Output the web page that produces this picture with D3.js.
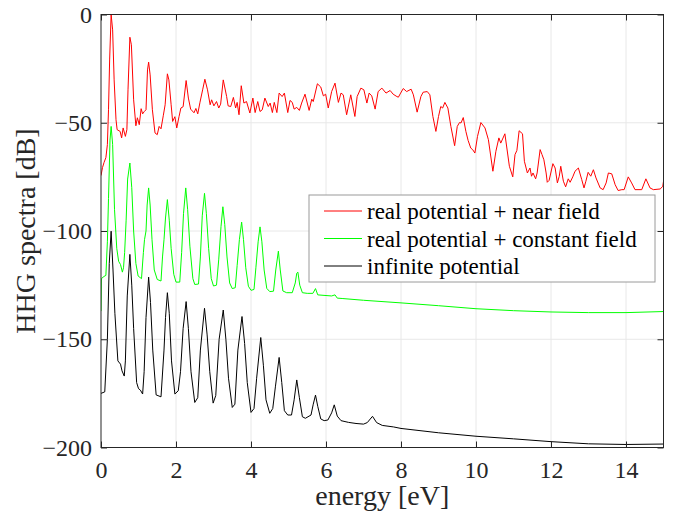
<!DOCTYPE html>
<html>
<head>
<meta charset="utf-8">
<script src="https://cdn.jsdelivr.net/npm/d3@7"></script>
</head>
<body style="margin:0">
<div id="figure"></div>
<script>
// Axis ticks
const xTicks = [0, 2, 4, 6, 8, 10, 12, 14];
const yTicks = [-200, -150, -100, -50, 0];

// Legend entries
const seriesNames = ["real potential + near field", "real potential + constant field", "infinite potential"];
const seriesColors = ["#ff0000", "#00ff00", "#000000"];

// HHG spectra: [photon energy (eV), intensity (dB)]
const nearField = [
  [0,-74.4],[0.04,-70.7],[0.08,-68.4],[0.13,-66.1],[0.17,-60.1],[0.2,-44],[0.23,-21],[0.27,0],
  [0.31,-7.1],[0.35,-30.2],[0.4,-48.6],[0.43,-53.2],[0.51,-54],[0.55,-57],[0.59,-52.4],[0.65,-56.3],
  [0.69,-53.2],[0.72,-34.8],[0.77,-10.5],[0.81,-14],[0.87,-39.4],[0.93,-51.4],[0.97,-47.7],[1.02,-50.9],
  [1.07,-43.5],[1.11,-45.9],[1.15,-44.9],[1.2,-44],[1.24,-25.6],[1.27,-22],[1.31,-27.9],[1.37,-44],
  [1.44,-54.7],[1.5,-55.5],[1.55,-51.7],[1.6,-52.8],[1.66,-46.8],[1.71,-41.7],[1.77,-27.4],[1.81,-30.2],
  [1.87,-41.7],[1.91,-49.4],[1.97,-47.2],[2.02,-52.4],[2.08,-47.2],[2.13,-43.2],[2.19,-42.6],[2.27,-30.5],
  [2.33,-38.6],[2.39,-43.7],[2.48,-45.4],[2.53,-43.4],[2.58,-45.9],[2.64,-40.5],[2.71,-34.8],[2.77,-29.9],
  [2.84,-34.8],[2.91,-41.7],[2.95,-39.4],[3.01,-42.2],[3.08,-40.2],[3.14,-43.2],[3.19,-41.4],[3.26,-30.2],
  [3.35,-37.9],[3.39,-42.2],[3.46,-42.5],[3.53,-38.3],[3.59,-43.2],[3.63,-40.6],[3.68,-46.3],[3.74,-32.9],
  [3.81,-40.9],[3.88,-40.2],[3.97,-45.5],[4.05,-38.6],[4.11,-45.3],[4.18,-40.2],[4.24,-44.8],[4.3,-44],
  [4.37,-38.6],[4.46,-42.5],[4.51,-40.9],[4.57,-45.3],[4.62,-40.6],[4.69,-45.3],[4.75,-36.3],[4.83,-37.9],
  [4.89,-36.3],[4.98,-45.3],[5.04,-39.7],[5.1,-40.6],[5.15,-43.7],[5.22,-42.9],[5.29,-44.3],[5.35,-40.9],
  [5.44,-36.8],[5.55,-44.3],[5.62,-39.1],[5.66,-40.2],[5.77,-32],[5.86,-33.5],[5.93,-37.6],[5.99,-36.8],
  [6.06,-43.2],[6.15,-35.6],[6.24,-31.7],[6.33,-40.6],[6.4,-36.3],[6.46,-37.1],[6.55,-46.3],[6.66,-37.1],
  [6.77,-47.1],[6.83,-37.9],[6.93,-34],[7.01,-34.8],[7.09,-40.9],[7.15,-36.3],[7.22,-37.6],[7.31,-43.7],
  [7.39,-35.6],[7.49,-34],[7.6,-36.3],[7.71,-35.1],[7.79,-36.8],[7.89,-37.9],[7.93,-38.2],[7.99,-36.3],
  [8.06,-34.2],[8.15,-35.6],[8.27,-34.5],[8.33,-37.1],[8.43,-45.1],[8.53,-37.9],[8.59,-35.9],[8.7,-35.6],
  [8.77,-37.1],[8.85,-47.1],[8.93,-54],[9.0,-47.1],[9.06,-42.5],[9.11,-43.2],[9.17,-40.6],[9.25,-43.2],
  [9.33,-51.7],[9.43,-60.6],[9.5,-51.7],[9.56,-49.9],[9.6,-50.1],[9.66,-47.6],[9.73,-54],[9.79,-58.2],
  [9.86,-61.7],[9.91,-62.4],[9.97,-64],[10.04,-56.3],[10.13,-49.9],[10.24,-52.4],[10.33,-57.8],[10.45,-72.4],
  [10.53,-63.2],[10.61,-57],[10.66,-59.4],[10.77,-55.1],[10.89,-70.1],[10.98,-75],[11.04,-64.7],[11.09,-62.8],
  [11.15,-53.7],[11.24,-55.1],[11.29,-67.8],[11.37,-73.2],[11.44,-70.9],[11.48,-74.7],[11.52,-73.2],[11.59,-75.9],
  [11.63,-73.2],[11.71,-62.4],[11.76,-64.7],[11.81,-67.1],[11.87,-73.2],[11.9,-77.5],[11.95,-76.6],[12.05,-68.9],
  [12.11,-70.9],[12.17,-77.8],[12.22,-74.7],[12.26,-70.1],[12.33,-77],[12.39,-79.6],[12.46,-75.9],[12.51,-77.5],
  [12.58,-75],[12.64,-72.4],[12.73,-70.9],[12.82,-76.3],[12.88,-80.1],[12.93,-77],[12.99,-72.9],[13.06,-74.7],
  [13.13,-71.7],[13.2,-75.5],[13.31,-80.1],[13.39,-80.9],[13.47,-77.8],[13.53,-73.2],[13.62,-73.6],[13.71,-78.6],
  [13.79,-81.3],[13.89,-80.9],[13.95,-80.9],[14.06,-75],[14.15,-77.8],[14.24,-80.9],[14.42,-80.9],[14.53,-75.9],
  [14.64,-80.1],[14.73,-80.9],[14.91,-80.6],[14.98,-79.4],[15,-77]
];

const constantField = [
  [0,-137],[0.01,-122],[0.08,-121],[0.13,-120.5],[0.17,-105],[0.2,-85],[0.24,-58],[0.27,-51.7],
  [0.31,-60],[0.36,-90],[0.42,-108],[0.47,-114],[0.52,-115.5],[0.57,-119],[0.6,-117],[0.63,-110],
  [0.67,-95],[0.71,-76],[0.77,-68.6],[0.82,-80],[0.87,-100],[0.93,-115],[0.99,-120.8],[1.08,-122],
  [1.13,-110],[1.16,-104],[1.2,-100],[1.23,-88],[1.27,-80.1],[1.31,-88],[1.36,-104],[1.42,-118],
  [1.5,-122.4],[1.6,-123.1],[1.64,-112],[1.68,-104],[1.72,-94],[1.77,-85.5],[1.82,-95],[1.87,-108],
  [1.94,-120],[2.0,-123.6],[2.1,-123.6],[2.15,-110],[2.2,-92],[2.26,-80.1],[2.31,-90],[2.37,-107],
  [2.45,-122],[2.5,-124.7],[2.6,-124.5],[2.65,-112],[2.7,-93],[2.76,-82.6],[2.81,-92],[2.87,-108],
  [2.94,-122],[3.0,-125.4],[3.08,-125],[3.14,-113],[3.2,-98],[3.25,-88.8],[3.3,-97],[3.36,-112],
  [3.43,-124],[3.5,-126.6],[3.58,-126.2],[3.63,-116],[3.69,-104],[3.75,-95.9],[3.8,-104],[3.86,-117],
  [3.93,-125.5],[4.0,-127.4],[4.08,-127],[4.13,-117],[4.19,-105],[4.24,-98.1],[4.29,-105],[4.35,-118],
  [4.42,-126.5],[4.5,-128],[4.6,-127.8],[4.66,-118],[4.73,-109.3],[4.78,-118],[4.85,-127.7],[4.95,-128.5],
  [5.1,-128.5],[5.18,-124],[5.22,-119.5],[5.25,-119],[5.3,-125],[5.37,-128.5],[5.5,-128.8],[5.65,-128.8],
  [5.72,-126.6],[5.78,-129.5],[5.92,-129.7],[6.15,-130],[6.24,-129.5],[6.3,-131],[6.45,-131.2],[7.0,-132],
  [8.0,-133.2],[9.0,-134.5],[10.0,-135.9],[11.0,-136.8],[12.0,-137.4],[13.0,-137.7],[14.0,-137.7],[15.0,-137.2]
];

const infiniteWell = [
  [0,-175],[0.1,-174.3],[0.17,-150],[0.22,-115],[0.27,-100.1],[0.32,-118],[0.37,-138],[0.45,-160],
  [0.52,-161.5],[0.56,-164.6],[0.62,-167],[0.65,-160],[0.7,-130],[0.77,-110.8],[0.82,-125],[0.87,-145],
  [0.95,-170],[1.0,-172.8],[1.05,-173.5],[1.11,-175.3],[1.15,-165],[1.2,-140],[1.27,-121.3],[1.32,-133],
  [1.38,-155],[1.47,-175.7],[1.6,-176.6],[1.68,-155],[1.72,-140],[1.77,-128.5],[1.82,-138],[1.88,-160],
  [1.97,-175.3],[2.06,-173.8],[2.12,-165],[2.19,-145],[2.27,-132.6],[2.33,-145],[2.4,-165],[2.5,-179.2],
  [2.58,-177],[2.65,-155],[2.76,-135.7],[2.83,-148],[2.9,-165],[2.99,-179.5],[3.06,-176],[3.15,-150],
  [3.26,-136.5],[3.33,-150],[3.4,-168],[3.5,-181.5],[3.57,-180],[3.65,-155],[3.76,-139.5],[3.83,-152],
  [3.9,-170],[4.0,-183.8],[4.08,-182],[4.15,-168],[4.26,-149.2],[4.33,-162],[4.4,-178],[4.5,-184.2],
  [4.58,-182],[4.65,-172],[4.75,-158.4],[4.82,-170],[4.89,-183],[4.98,-185],[5.08,-185],[5.15,-178],
  [5.22,-168.8],[5.29,-177],[5.37,-185.8],[5.45,-186.5],[5.6,-185],[5.66,-180],[5.72,-175.8],[5.78,-181],
  [5.86,-186.8],[5.95,-187.6],[6.05,-187.3],[6.15,-184],[6.22,-180.3],[6.3,-185.5],[6.4,-187.6],[6.6,-188.4],
  [6.8,-188.9],[7.0,-189.2],[7.1,-188.5],[7.24,-185.6],[7.35,-188.5],[7.5,-189.8],[7.8,-190.5],[8,-191.2],
  [9,-193.2],[10,-194.8],[11,-196],[12,-197.3],[13,-198.3],[14,-198.6],[15,-198.4]
];

const seriesData = [nearField, constantField, infiniteWell];

const SERIF_STACK = '"Liberation Serif", Tinos, "Times New Roman", Times, FreeSerif, "Nimbus Roman"';
const INK = "#262626";

const plot = { left: 101, right: 663.5, top: 14.5, bottom: 447.5 };
const x = d3.scaleLinear().domain([0, 15]).range([plot.left, plot.right]);
const y = d3.scaleLinear().domain([-200, 0]).range([plot.bottom, plot.top]);

const svg = d3.select("#figure").append("svg")
  .attr("width", 678).attr("height", 521)
  .style("display", "block");
svg.append("rect").attr("width", 678).attr("height", 521).attr("fill", "#fff");

// Text helper: serif face, size and colour
function serif(sel, size, color) {
  return sel.style("font-family", SERIF_STACK)
    .attr("font-size", size)
    .attr("fill", color);
}

// Grid
const grid = svg.append("g").attr("stroke", "#e8e8e8").attr("stroke-width", 1);
grid.selectAll(".gx").data(xTicks.filter(t => t > 0)).join("line")
  .attr("x1", d => x(d)).attr("x2", d => x(d))
  .attr("y1", plot.top).attr("y2", plot.bottom);
grid.selectAll(".gy").data(yTicks.filter(t => t > -200 && t < 0)).join("line")
  .attr("x1", plot.left).attr("x2", plot.right)
  .attr("y1", d => y(d)).attr("y2", d => y(d));

// Spectra
svg.append("clipPath").attr("id", "plotArea").append("rect")
  .attr("x", plot.left).attr("y", plot.top)
  .attr("width", plot.right - plot.left).attr("height", plot.bottom - plot.top);

const line = d3.line().x(d => x(d[0])).y(d => y(d[1]));
const curves = svg.append("g").attr("clip-path", "url(#plotArea)");
seriesData.forEach((data, i) => {
  curves.append("path").datum(data)
    .attr("d", line)
    .attr("fill", "none")
    .attr("stroke", seriesColors[i])
    .attr("stroke-width", 1)
    .attr("stroke-linejoin", "round");
});

// Axes with inward ticks on all four sides
function styleAxis(g) {
  g.attr("font-family", null).attr("font-size", null);
  g.select(".domain").remove();
  g.selectAll(".tick line").attr("stroke", INK);
  serif(g.selectAll("text"), 24, INK);
}
svg.append("g").attr("transform", `translate(0,${plot.bottom})`)
  .call(d3.axisBottom(x).tickValues(xTicks).tickSizeInner(-6).tickSizeOuter(0).tickPadding(13))
  .call(styleAxis);
svg.append("g").attr("transform", `translate(0,${plot.top})`)
  .call(d3.axisTop(x).tickValues(xTicks).tickSizeInner(-6).tickSizeOuter(0).tickFormat(""))
  .call(styleAxis);
svg.append("g").attr("transform", `translate(${plot.left},0)`)
  .call(d3.axisLeft(y).tickValues(yTicks).tickSizeInner(-6).tickSizeOuter(0).tickPadding(9))
  .call(styleAxis);
svg.append("g").attr("transform", `translate(${plot.right},0)`)
  .call(d3.axisRight(y).tickValues(yTicks).tickSizeInner(-6).tickSizeOuter(0).tickFormat(""))
  .call(styleAxis);

svg.append("rect")
  .attr("x", plot.left).attr("y", plot.top)
  .attr("width", plot.right - plot.left).attr("height", plot.bottom - plot.top)
  .attr("fill", "none").attr("stroke", INK).attr("stroke-width", 1);

// Axis titles
serif(svg.append("text"), 28, INK)
  .attr("x", (plot.left + plot.right) / 2).attr("y", 505)
  .attr("text-anchor", "middle")
  .text("energy [eV]");
serif(svg.append("text"), 28, INK)
  .attr("transform", `translate(35,${(plot.top + plot.bottom) / 2}) rotate(-90)`)
  .attr("text-anchor", "middle")
  .text("HHG spectra [dB]");

// Legend
const legend = svg.append("g");
legend.append("rect")
  .attr("x", 309).attr("y", 195).attr("width", 346).attr("height", 87)
  .attr("fill", "#fff").attr("stroke", "#9a9a9a").attr("stroke-width", 1);
const rowY = [211, 238.5, 266];
seriesNames.forEach((name, i) => {
  legend.append("line")
    .attr("x1", 324).attr("x2", 362).attr("y1", rowY[i]).attr("y2", rowY[i])
    .attr("stroke", seriesColors[i]).attr("stroke-width", 1);
  serif(legend.append("text"), 23, "#000")
    .attr("x", 367).attr("y", rowY[i] + 8)
    .text(name);
});
</script>
</body>
</html>
